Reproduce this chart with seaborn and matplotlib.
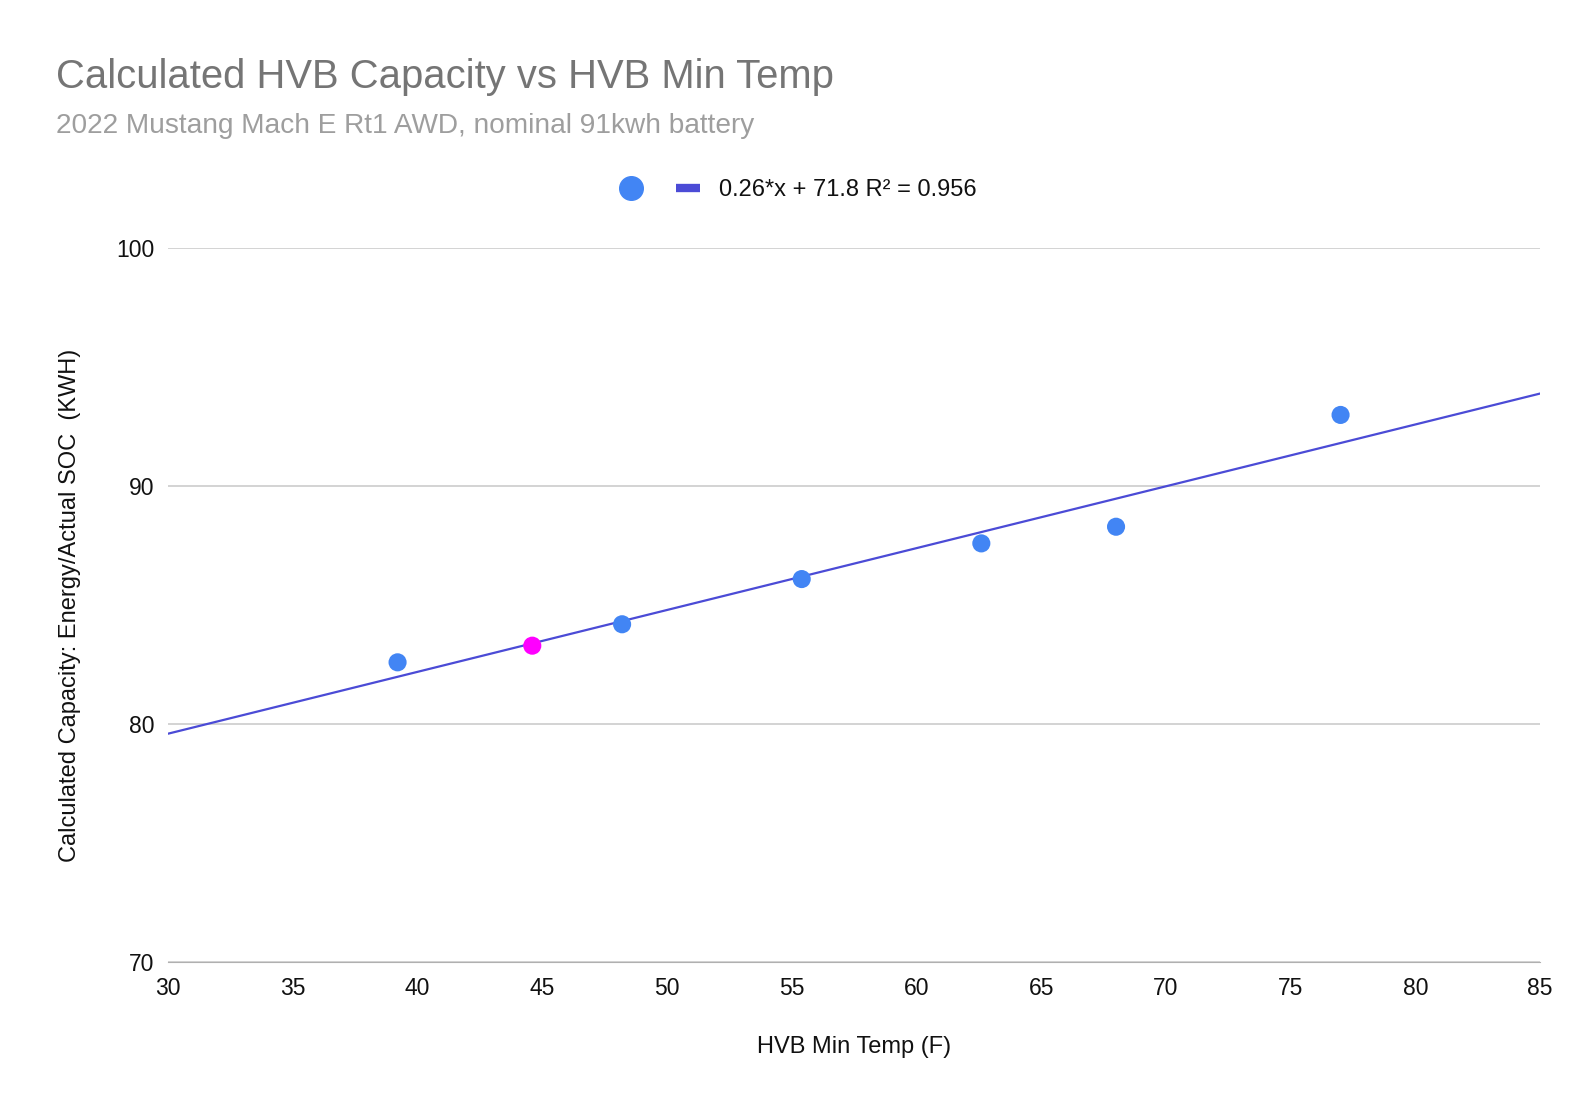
import numpy as np
import pandas as pd
import seaborn as sns
import matplotlib.pyplot as plt
from matplotlib.lines import Line2D

# data
temp_f = [39.2, 48.2, 55.4, 62.6, 68.0, 77.0]
capacity_kwh = [82.6, 84.2, 86.1, 87.6, 88.3, 93.0]
highlight_temp = [44.6]
highlight_capacity = [83.3]

slope, intercept, r2 = 0.26, 71.8, 0.956
x_ticks = [30, 35, 40, 45, 50, 55, 60, 65, 70, 75, 80, 85]
y_ticks = [70, 80, 90, 100]

sns.set_style("white")
plt.rcParams['font.family'] = ['Liberation Sans', 'DejaVu Sans']

fig = plt.figure(figsize=(15.96, 11.14), dpi=100)
ax = fig.add_axes([0.1053, 0.1364, 0.8597, 0.6406])

df = pd.DataFrame({"temp": temp_f, "cap": capacity_kwh})
hl = pd.DataFrame({"temp": highlight_temp, "cap": highlight_capacity})

# trendline
trend_x = np.array([x_ticks[0], x_ticks[-1]])
trend = pd.DataFrame({"temp": trend_x, "cap": slope * trend_x + intercept})
sns.lineplot(data=trend, x="temp", y="cap", ax=ax, color="#4b4bd6", lw=1.6, zorder=2)

sns.scatterplot(data=df, x="temp", y="cap", ax=ax, color="#4285F4", s=170,
                edgecolor="none", zorder=3)
sns.scatterplot(data=hl, x="temp", y="cap", ax=ax, color="#FF00FF", s=170,
                edgecolor="none", zorder=3)

ax.set_xlim(x_ticks[0], x_ticks[-1])
ax.set_ylim(y_ticks[0], y_ticks[-1])
ax.set_xticks(x_ticks)
ax.set_yticks(y_ticks)
ax.grid(axis="y", color="#cccccc", lw=1.2)
ax.grid(axis="x", visible=False)
for side in ["top", "right", "left"]:
    ax.spines[side].set_visible(False)
ax.spines["bottom"].set_color("#b0b0b0")
ax.tick_params(axis="both", length=0, labelsize=16.5, colors="#111111")
ax.tick_params(axis="x", pad=11)
ax.tick_params(axis="y", pad=10)

ax.set_xlabel("HVB Min Temp (F)", fontsize=17, color="#111111", labelpad=26)
ax.set_ylabel("Calculated Capacity: Energy/Actual SOC  (KWH)", fontsize=17,
              color="#111111", labelpad=25)

fig.text(0.035, 0.931, "Calculated HVB Capacity vs HVB Min Temp", fontsize=28.8,
         color="#757575", va="center")
fig.text(0.035, 0.887, "2022 Mustang Mach E Rt1 AWD, nominal 91kwh battery",
         fontsize=20.2, color="#9e9e9e", va="center")

handles = [
    Line2D([], [], ls="none", marker="o", markersize=17, color="#4285F4"),
    Line2D([], [], color="#4b4bd6", lw=6, solid_capstyle="butt"),
]
labels = ["", f"{slope}*x + {intercept} R\u00b2 = {r2}"]
fig.legend(handles, labels, loc="center", bbox_to_anchor=(0.50, 0.829), ncol=2,
           frameon=False, fontsize=17, handlelength=1.0, columnspacing=0.6,
           handletextpad=0.8, labelcolor="#111111")

fig.savefig("out.png", dpi=100)
